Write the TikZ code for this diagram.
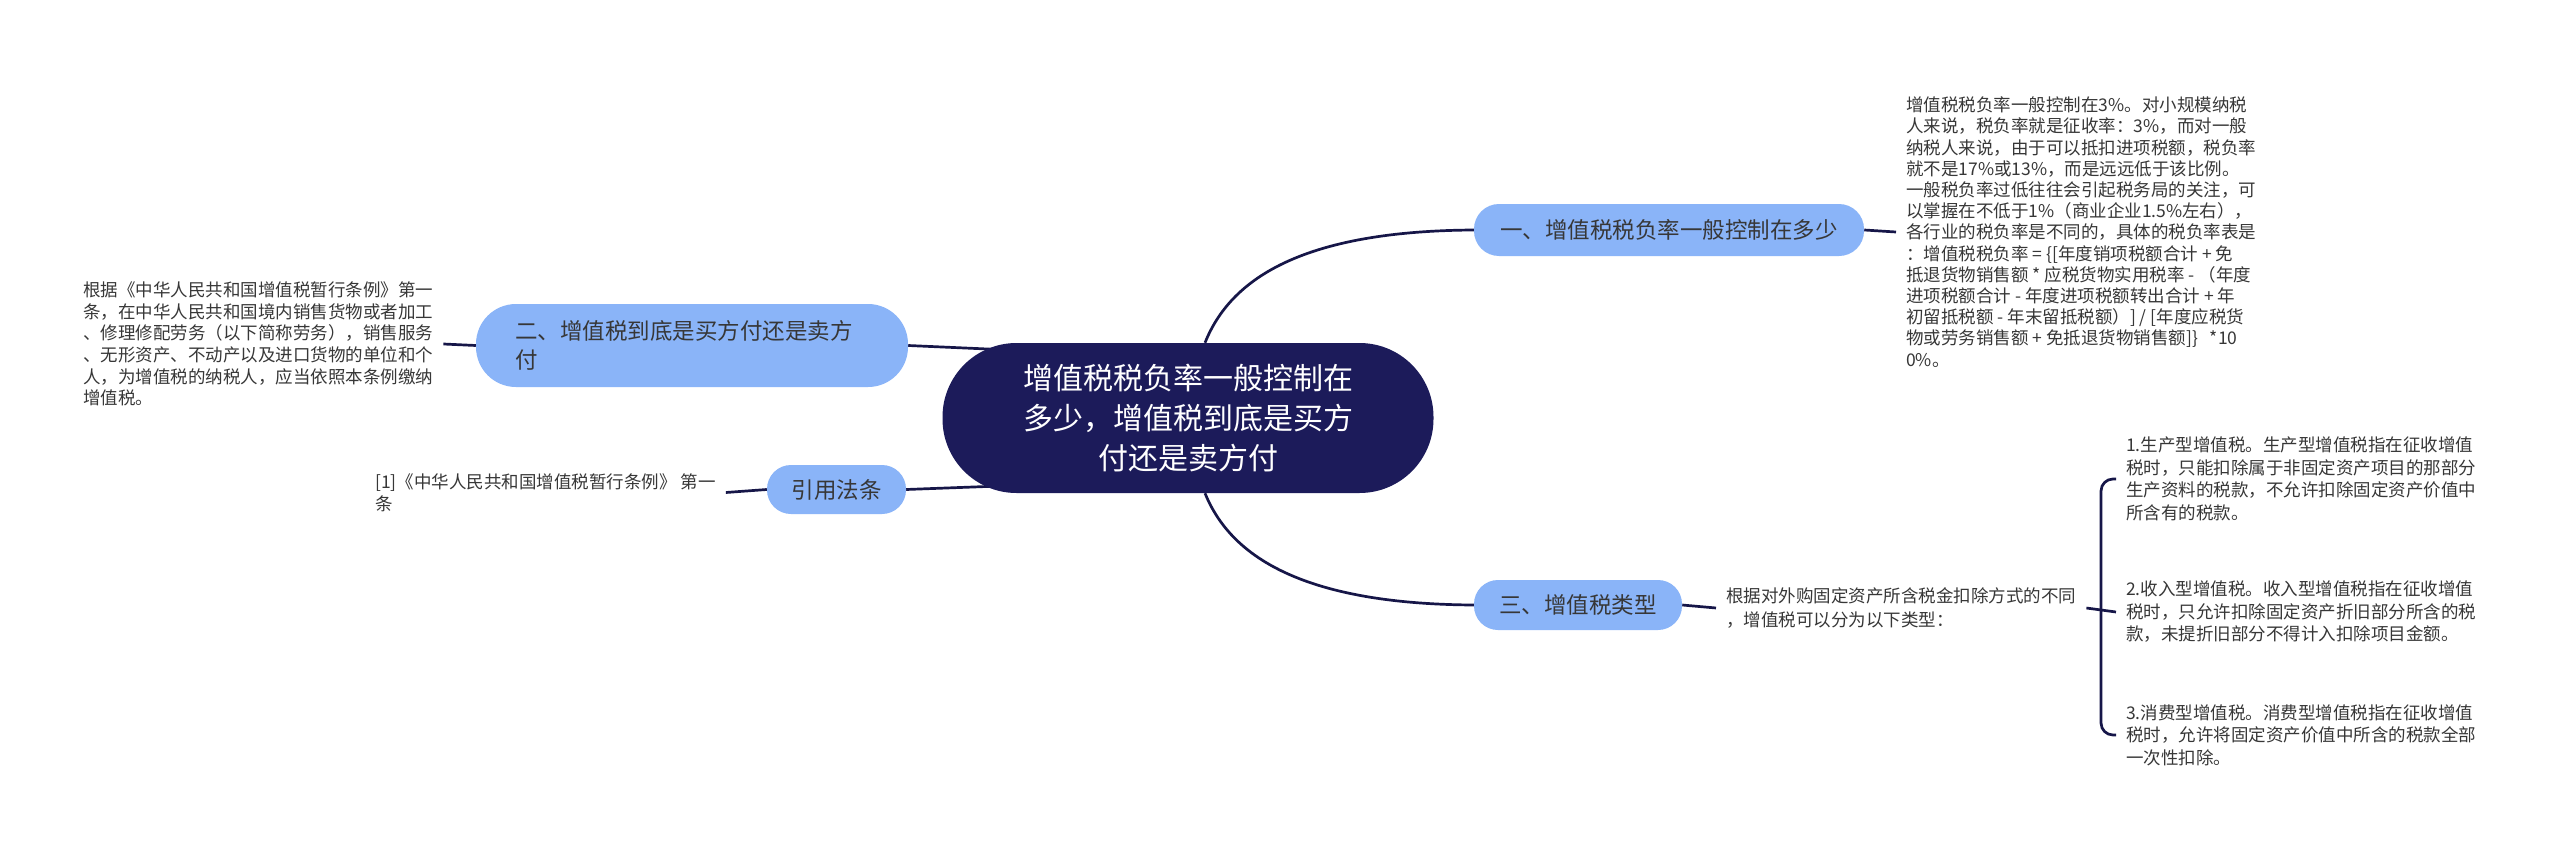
\documentclass[tikz,border=0pt]{standalone}
\usepackage{fontspec}
\newfontfamily\cjk{Noto Sans CJK SC}
\usetikzlibrary{backgrounds}
\definecolor{navy}{RGB}{28,27,90}
\definecolor{lnc}{RGB}{22,22,72}
\definecolor{bl}{RGB}{138,180,248}
\definecolor{txt}{RGB}{55,55,55}
\tikzset{
  central/.style={fill=navy, text=white, rounded corners=74pt, minimum width=491pt,
    minimum height=150pt, align=center, inner sep=0pt, font={\cjk\fontsize{30}{40}\selectfont}},
  branch/.style={fill=bl, text=txt, align=center, inner sep=0pt, font={\cjk\fontsize{22.5}{29}\selectfont}},
  note/.style={text=txt, align=left, inner xsep=10pt, inner ysep=0pt, anchor=west},
  notea/.style={note, font={\cjk\fontsize{17.5}{21.2}\selectfont}},
  noteb/.style={note, font={\cjk\fontsize{17.5}{21.6}\selectfont}},
  notec/.style={note, font={\cjk\fontsize{17.5}{22.5}\selectfont}},
  link/.style={draw=lnc, line width=2.7pt},
}
\begin{document}
\begin{tikzpicture}[x=1pt,y=-1pt]
\useasboundingbox (0,0) rectangle (2560,851);
% central
\node[central] (c) at (1188,418) {增值税税负率一般控制在\\多少，增值税到底是买方\\付还是卖方付};
% branches
\node[branch, minimum width=390pt, minimum height=52pt, rounded corners=25pt] (b1) at (1669,230) {一、增值税税负率一般控制在多少};
\node[branch, text width=354pt, inner xsep=39pt, align=left, minimum height=83pt, rounded corners=40pt] (b2) at (692,345.5) {二、增值税到底是买方付还是卖方\\付};
\node[branch, minimum width=139pt, minimum height=49pt, rounded corners=24pt] (b3) at (836.5,489.5) {引用法条};
\node[branch, minimum width=208pt, minimum height=50pt, rounded corners=24pt] (b4) at (1578,605) {三、增值税类型};
% notes
\node[notea] (t1) at (1896,232) {增值税税负率一般控制在3\%。对小规模纳税\\人来说，税负率就是征收率：3\%，而对一般\\纳税人来说，由于可以抵扣进项税额，税负率\\就不是17\%或13\%，而是远远低于该比例。\\一般税负率过低往往会引起税务局的关注，可\\以掌握在不低于1\%（商业企业1.5\%左右），\\各行业的税负率是不同的，具体的税负率表是\\：增值税税负率 = \{[年度销项税额合计 + 免\\抵退货物销售额 * 应税货物实用税率 - （年度\\进项税额合计 - 年度进项税额转出合计 + 年\\初留抵税额 - 年末留抵税额）] / [年度应税货\\物或劳务销售额 + 免抵退货物销售额]\}\ \ \ *10\\0\%。};
\node[noteb] (t2) at (73,344) {根据《中华人民共和国增值税暂行条例》第一\\条，在中华人民共和国境内销售货物或者加工\\、修理修配劳务（以下简称劳务），销售服务\\、无形资产、不动产以及进口货物的单位和个\\人，为增值税的纳税人，应当依照本条例缴纳\\增值税。};
\node[noteb] (t3) at (365,492.5) {[1]《中华人民共和国增值税暂行条例》 第一\\条};
\node[noteb, font={\cjk\fontsize{17.5}{24}\selectfont}] (t4) at (1716,608) {根据对外购固定资产所含税金扣除方式的不同\\，增值税可以分为以下类型：};
\node[notec] (i1) at (2116,479) {1.生产型增值税。生产型增值税指在征收增值\\税时，只能扣除属于非固定资产项目的那部分\\生产资料的税款，不允许扣除固定资产价值中\\所含有的税款。};
\node[notec] (i2) at (2116,612) {2.收入型增值税。收入型增值税指在征收增值\\税时，只允许扣除固定资产折旧部分所含的税\\款，未提折旧部分不得计入扣除项目金额。};
\node[notec] (i3) at (2116,735) {3.消费型增值税。消费型增值税指在征收增值\\税时，允许将固定资产价值中所含的税款全部\\一次性扣除。};
\coordinate (c2in) at (1010,350);
\coordinate (c3in) at (1000,486);
\coordinate (brk) at (2101,610);
\begin{scope}[on background layer]
\fill[white] (0,0) rectangle (2560,851);
\draw[link] ([xshift=17pt]c.north) .. controls (1230,280) and (1300,231) .. (b1.west);
\draw[link] ([xshift=17pt]c.south) .. controls (1230,555) and (1300,604) .. (b4.west);
\draw[link] (b2.east) -- (c2in);
\draw[link] (b3.east) -- (c3in);
\draw[link] (b1.east) -- (t1.west);
\draw[link] (t2.east) -- (b2.west);
\draw[link] (t3.east) -- (b3.west);
\draw[link] (b4.east) -- (t4.west);
\draw[link] (t4.east) -- (i2.west);
\draw[link, rounded corners=12pt] (i1.west) -| (brk) |- (i3.west);
\end{scope}
\end{tikzpicture}
\end{document}
